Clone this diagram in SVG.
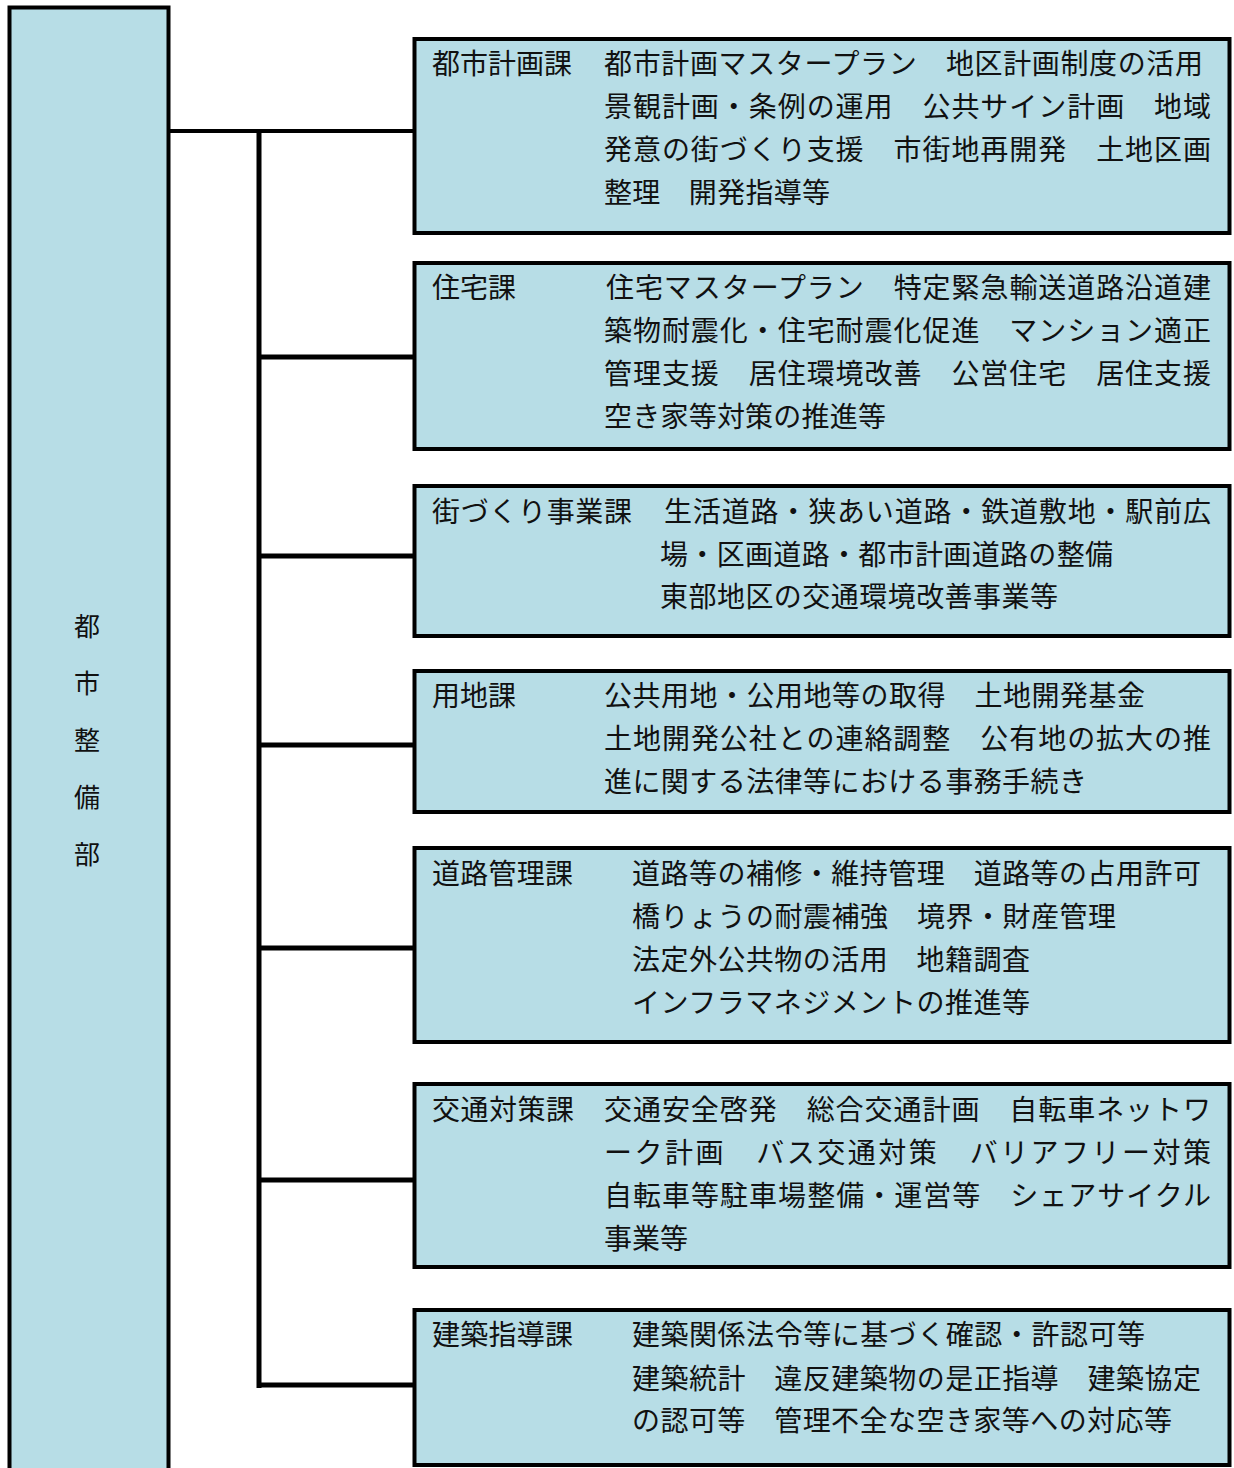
<svg xmlns="http://www.w3.org/2000/svg" width="1234" height="1468" viewBox="0 0 1234 1468">
<style>
.box{fill:#b7dde6;stroke:#000;stroke-width:4}
.ln{stroke:#000;stroke-width:5;fill:none}
text{font-family:"Noto Sans CJK JP","Noto Sans CJK SC",sans-serif;font-size:28px;fill:#111}
.dept{font-size:26px;text-anchor:middle}
</style>
<rect width="1234" height="1468" fill="#fff"/>
<g id="dept">
<rect class="box" x="9.5" y="7.5" width="159" height="1480"/>
<text class="dept" x="87" y="636">都</text>
<text class="dept" x="87" y="693">市</text>
<text class="dept" x="87" y="750">整</text>
<text class="dept" x="87" y="807">備</text>
<text class="dept" x="87" y="864">部</text>
</g>
<g id="connectors">
<line class="ln" x1="169" y1="131" x2="414" y2="131" style="stroke-width:4"/>
<line class="ln" x1="259" y1="129" x2="259" y2="1388"/>
<line class="ln" x1="259" y1="357" x2="414" y2="357"/>
<line class="ln" x1="259" y1="556" x2="414" y2="556"/>
<line class="ln" x1="259" y1="745" x2="414" y2="745"/>
<line class="ln" x1="259" y1="948" x2="414" y2="948"/>
<line class="ln" x1="259" y1="1180" x2="414" y2="1180"/>
<line class="ln" x1="259" y1="1385" x2="414" y2="1385"/>
</g>
<g id="toshikeikaku">
<rect class="box" x="414.5" y="39" width="815" height="194"/>
<text x="432" y="74" textLength="140">都市計画課</text>
<text x="604" y="74" textLength="599">都市計画マスタープラン　地区計画制度の活用</text>
<text x="604" y="117" textLength="607">景観計画・条例の運用　公共サイン計画　地域</text>
<text x="604" y="160" textLength="607">発意の街づくり支援　市街地再開発　土地区画</text>
<text x="604" y="203" textLength="226">整理　開発指導等</text>
</g>
<g id="jutaku">
<rect class="box" x="414.5" y="263" width="815" height="186"/>
<text x="432" y="298" textLength="84">住宅課</text>
<text x="606" y="298" textLength="605">住宅マスタープラン　特定緊急輸送道路沿道建</text>
<text x="604" y="341" textLength="607">築物耐震化・住宅耐震化促進　マンション適正</text>
<text x="604" y="384" textLength="607">管理支援　居住環境改善　公営住宅　居住支援</text>
<text x="604" y="427" textLength="282">空き家等対策の推進等</text>
</g>
<g id="machizukuri">
<rect class="box" x="414.5" y="486" width="815" height="150"/>
<text x="432" y="522" textLength="200">街づくり事業課</text>
<text x="664" y="522" textLength="547">生活道路・狭あい道路・鉄道敷地・駅前広</text>
<text x="660" y="565" textLength="453">場・区画道路・都市計画道路の整備</text>
<text x="660" y="607" textLength="398">東部地区の交通環境改善事業等</text>
</g>
<g id="yochi">
<rect class="box" x="414.5" y="671" width="815" height="141"/>
<text x="432" y="706" textLength="84">用地課</text>
<text x="604" y="706" textLength="541">公共用地・公用地等の取得　土地開発基金</text>
<text x="604" y="749" textLength="607">土地開発公社との連絡調整　公有地の拡大の推</text>
<text x="604" y="792" textLength="483">進に関する法律等における事務手続き</text>
</g>
<g id="dorokanri">
<rect class="box" x="414.5" y="848" width="815" height="194"/>
<text x="432" y="884" textLength="141">道路管理課</text>
<text x="632" y="884" textLength="569">道路等の補修・維持管理　道路等の占用許可</text>
<text x="632" y="927" textLength="484">橋りょうの耐震補強　境界・財産管理</text>
<text x="632" y="970" textLength="398">法定外公共物の活用　地籍調査</text>
<text x="632" y="1013" textLength="398">インフラマネジメントの推進等</text>
</g>
<g id="kotsu">
<rect class="box" x="414.5" y="1084" width="815" height="183"/>
<text x="432" y="1120" textLength="142">交通対策課</text>
<text x="604" y="1120" textLength="607">交通安全啓発　総合交通計画　自転車ネットワ</text>
<text x="604" y="1163" textLength="607">ーク計画　バス交通対策　バリアフリー対策</text>
<text x="604" y="1206" textLength="607">自転車等駐車場整備・運営等　シェアサイクル</text>
<text x="604" y="1249" textLength="84">事業等</text>
</g>
<g id="kenchiku">
<rect class="box" x="414.5" y="1310" width="815" height="155"/>
<text x="432" y="1345" textLength="141">建築指導課</text>
<text x="632" y="1345" textLength="513">建築関係法令等に基づく確認・許認可等</text>
<text x="632" y="1389" textLength="569">建築統計　違反建築物の是正指導　建築協定</text>
<text x="632" y="1431" textLength="540">の認可等　管理不全な空き家等への対応等</text>
</g>
</svg>
